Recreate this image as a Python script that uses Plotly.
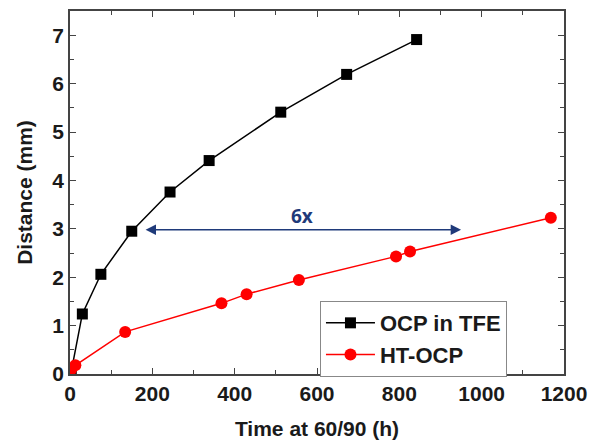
import plotly.graph_objects as go

ocp_x = [3, 30, 75, 150, 243, 338, 512, 672, 842]
ocp_y = [0.05, 1.24, 2.06, 2.95, 3.76, 4.41, 5.41, 6.19, 6.91]
ht_x = [2, 13, 134, 368, 429, 556, 792, 826, 1168]
ht_y = [0.08, 0.18, 0.87, 1.46, 1.65, 1.94, 2.43, 2.53, 3.23]

x_tick_vals = [0, 200, 400, 600, 800, 1000, 1200]
x_tick_text = ["0", "200", "400", "600", "800", "1000", "1200"]
y_tick_vals = [0, 1, 2, 3, 4, 5, 6, 7]
y_tick_text = ["0", "1", "2", "3", "4", "5", "6", "7"]

arrow_start = 180
arrow_end = 950
arrow_y = 2.98
label_text = "6x"
label_x = 563
label_y = 3.27

font_family = "Liberation Sans, Arial, sans-serif"
txt = "#1a1a1a"
fs = 21

fig = go.Figure()
fig.add_trace(go.Scatter(x=ocp_x, y=ocp_y, mode="lines+markers", name="<b>OCP in TFE</b>",
                         line=dict(color="black", width=1.5),
                         marker=dict(symbol="square", size=11, color="black")))
fig.add_trace(go.Scatter(x=ht_x, y=ht_y, mode="lines+markers", name="<b>HT-OCP</b>",
                         line=dict(color="#ff0000", width=1.5),
                         marker=dict(symbol="circle", size=12, color="#ff0000")))

fig.add_annotation(x=arrow_end, y=arrow_y, ax=arrow_start, ay=arrow_y,
                   xref="x", yref="y", axref="x", ayref="y", text="",
                   showarrow=True, arrowhead=2, startarrowhead=2, arrowside="end+start",
                   arrowsize=1.3, arrowwidth=1.6, arrowcolor="#1f3a7a", startarrowsize=1.3)
fig.add_annotation(x=label_x, y=label_y, xref="x", yref="y", text="<b>" + label_text + "</b>",
                   showarrow=False,
                   font=dict(size=19, color="#1f3a7a", family="Open Sans, sans-serif"))

axis_common = dict(showline=True, linecolor="#444", linewidth=1.5, mirror="ticks",
                   ticks="inside", ticklen=6, tickwidth=1.3, tickcolor="#444",
                   showgrid=False, zeroline=False,
                   tickfont=dict(size=fs, family=font_family, color=txt))

fig.update_xaxes(range=[0, 1200], tickmode="array", tickvals=x_tick_vals,
                 ticktext=["<b>" + t + "</b>" for t in x_tick_text],
                 minor=dict(dtick=100, ticks="inside", ticklen=4, tickwidth=1.2, tickcolor="#444"),
                 title=dict(text="<b>Time at 60/90 (h)</b>", standoff=17,
                            font=dict(size=fs, family=font_family, color=txt)),
                 **axis_common)
fig.update_yaxes(range=[0, 7.5], tickmode="array", tickvals=y_tick_vals,
                 ticktext=["<b>" + t + "</b>" for t in y_tick_text],
                 minor=dict(tickvals=[0.5, 1.5, 2.5, 3.5, 4.5, 5.5, 6.5, 7.5], ticks="inside",
                            ticklen=4, tickwidth=1.2, tickcolor="#444"),
                 title=dict(text="<b>Distance (mm)</b>", standoff=14,
                            font=dict(size=fs, family=font_family, color=txt)),
                 **axis_common)

fig.update_layout(width=595, height=441,
                  margin=dict(l=70, r=31, t=11, b=67, autoexpand=False),
                  plot_bgcolor="white", paper_bgcolor="white",
                  legend=dict(x=0.506, y=0.201, xanchor="left", yanchor="top",
                              bordercolor="#888", borderwidth=1, bgcolor="white",
                              font=dict(size=22, family=font_family, color=txt),
                              itemwidth=49, tracegroupgap=0))

fig.write_html("out.html", config={"displayModeBar": False},
               post_script="document.body.style.margin='0';")
